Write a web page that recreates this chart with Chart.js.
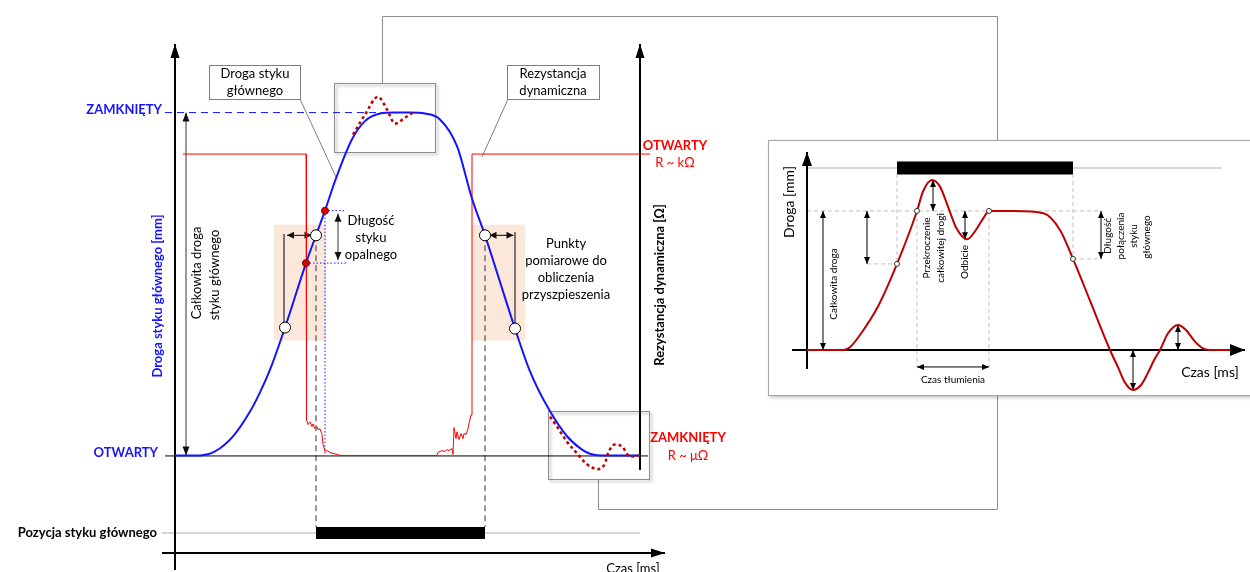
<!DOCTYPE html>
<html>
<head>
<meta charset="utf-8">
<script src="https://cdn.jsdelivr.net/npm/chart.js@4.4.1/dist/chart.umd.min.js"></script>
<style>
    html, body { margin: 0; padding: 0; background: #fff; }
    #wrap { position: relative; width: 1250px; height: 572px; overflow: hidden; }
    #main { position: absolute; left: 0; top: 0; }
    #inset { position: absolute; left: 766px; top: 139px; }
</style>
</head>
<body>
<div id="wrap">
    <canvas id="main" width="1250" height="572"></canvas>
    <canvas id="inset" width="484" height="264"></canvas>
</div>
<script>
// ---- main chart data: time (ms, arbitrary units), travel 0 = OTWARTY, 1 = ZAMKNIĘTY ----
const levelLabels = ['OTWARTY', 'ZAMKNIĘTY'];
const resistanceLabels = ['R ~ μΩ', 'R ~ kΩ'];

const pathTime  = [0, 5, 8, 11.6, 15, 17, 19, 22, 26.2, 28.2, 30, 32, 35.4, 38, 41, 44, 47, 50, 53, 56.4, 59.4, 62, 68, 71, 74.4, 78.4, 81.4, 83, 85, 93];
const pathValue = [0, 0, 0.0115, 0.0555, 0.128, 0.184, 0.25, 0.373, 0.561, 0.642, 0.714, 0.8, 0.922, 0.975, 0.997, 1, 1, 0.997, 0.98, 0.902, 0.749, 0.642, 0.37, 0.245, 0.144, 0.056, 0.017, 0.005, 0, 0];

const overTopTime  = [35.6, 38, 40.6, 42.4, 44, 46, 47.6];
const overTopValue = [0.936, 0.994, 1.046, 1.009, 0.968, 0.985, 1];

const overEndTime  = [75, 76.4, 78.4, 80.4, 82.4, 84.6, 86, 86.6, 88, 89.4, 91, 93];
const overEndValue = [0.113, 0.084, 0.04, 0.006, -0.026, -0.04, -0.023, 0.006, 0.032, 0.026, -0.003, 0];

const resTime  = [1.6, 26.2, 26.3, 26.6, 27, 27.4, 27.6, 28, 28.4, 28.6, 29, 29.4, 29.6, 30, 30.4, 31, 31.6, 32.4, 33,
                  52.4, 52.6, 53.4, 54, 54.4, 54.8, 55.4, 55.6, 55.8, 56.2, 56.4, 56.8, 57.2, 57.6, 57.8, 58.2, 58.6, 58.8, 59.2, 59.4, 95];
const resValue = [0.879, 0.879, 0.104, 0.09, 0.098, 0.084, 0.092, 0.078, 0.084, 0.075, 0.078, 0.061, 0.032, 0.012, 0.014, 0.009, 0.006, 0.003, 0,
                  0, 0.009, 0.014, 0.012, 0.017, 0.014, 0.02, 0.003, 0.081, 0.049, 0.069, 0.046, 0.064, 0.049, 0.064, 0.061, 0.078, 0.092, 0.118, 0.879, 0.879];

// acceleration measuring points (white) and arcing contact points (red)
const measureTime  = [22, 28.2, 62, 68];
const measureValue = [0.373, 0.642, 0.642, 0.37];
const arcTime  = [26.2, 30];
const arcValue = [0.561, 0.714];

// contact position bar (main contact closed)
const contactStart = 28.2;
const contactEnd = 62;

// ---- inset data ----
const insetTime  = [0, 7.3, 8.7, 10.6, 14.3, 18, 22, 23.2, 25, 26.6, 28.2, 29.9, 32, 34, 35.3, 36.4, 41.3, 47.3, 50.6, 53.2, 56.6, 60.6, 62.3, 63.6, 65.2, 66.8, 68.2, 69.5, 70.6, 72.2, 74.2, 75.8, 77.6, 79.2, 81.2, 84.6];
const insetValue = [0, 0, 0.024, 0.108, 0.32, 0.619, 1, 1.14, 1.223, 1.175, 1.031, 0.875, 0.796, 0.875, 0.95, 1, 1, 0.983, 0.863, 0.655, 0.355, 0, -0.132, -0.235, -0.288, -0.252, -0.163, -0.067, 0, 0.12, 0.18, 0.144, 0.06, 0.012, 0, 0];
const insetMarkTime  = [18, 22, 36.4, 53.2];
const insetMarkValue = [0.619, 1, 1, 0.655];
const insetBarStart = 18;
const insetBarEnd = 53.2;
const insetBarLevel = 1.309;

const FONT = 'Lato, "Open Sans", sans-serif';
const BLUE = '#1414ff';
const RED = '#ff0000';
const DARKRED = '#c00000';

const toPoints = (xs, ys) => xs.map((x, i) => ({ x: x, y: ys[i] }));

function arrow(ctx, x1, y1, x2, y2, both, head, half) {
    head = head || 6;
    half = half || 3;
    ctx.beginPath();
    ctx.moveTo(x1, y1);
    ctx.lineTo(x2, y2);
    ctx.stroke();
    const tip = function(ax, ay, bx, by) {
        const a = Math.atan2(by - ay, bx - ax);
        ctx.beginPath();
        ctx.moveTo(bx, by);
        ctx.lineTo(bx - head * Math.cos(a) + half * Math.sin(a), by - head * Math.sin(a) - half * Math.cos(a));
        ctx.lineTo(bx - head * Math.cos(a) - half * Math.sin(a), by - head * Math.sin(a) + half * Math.cos(a));
        ctx.closePath();
        ctx.fill();
    };
    tip(x1, y1, x2, y2);
    if (both) tip(x2, y2, x1, y1);
}

function line(ctx, pts) {
    ctx.beginPath();
    ctx.moveTo(pts[0][0], pts[0][1]);
    for (let i = 1; i < pts.length; i++) ctx.lineTo(pts[i][0], pts[i][1]);
    ctx.stroke();
}

function text(ctx, str, x, y, font, color, align) {
    ctx.font = font;
    ctx.fillStyle = color;
    ctx.textAlign = align || 'center';
    ctx.textBaseline = 'middle';
    ctx.fillText(str, x, y);
}

function rotText(ctx, str, x, y, font, color) {
    ctx.save();
    ctx.translate(x, y);
    ctx.rotate(-Math.PI / 2);
    text(ctx, str, 0, 0, font, color);
    ctx.restore();
}

// decorations of the main chart
const mainDecor = {
    id: 'mainDecor',
    beforeDatasetsDraw(chart) {
        const ctx = chart.ctx;
        const X = v => chart.scales.x.getPixelForValue(v);
        const Y = v => chart.scales.y.getPixelForValue(v);
        ctx.save();

        // connector from zoom boxes to the inset
        ctx.strokeStyle = '#8c8c8c';
        ctx.lineWidth = 1;
        line(ctx, [[382.5, 83], [382.5, 16.5], [997.5, 16.5], [997.5, 509.5], [598.5, 509.5], [598.5, 479]]);

        // shaded windows around measuring points
        ctx.fillStyle = '#fce8da';
        ctx.fillRect(X(19.8), Y(0.673), X(30.2) - X(19.8), Y(0.335) - Y(0.673));
        ctx.fillRect(X(59.4), Y(0.673), X(70) - X(59.4), Y(0.335) - Y(0.673));

        // zoom boxes
        ctx.save();
        ctx.shadowColor = 'rgba(0,0,0,0.35)';
        ctx.shadowBlur = 3;
        ctx.shadowOffsetX = 2;
        ctx.shadowOffsetY = 2;
        ctx.strokeStyle = '#8c8c8c';
        ctx.strokeRect(334.5, 83.5, 101, 69);
        ctx.strokeRect(548.5, 411.5, 101, 68);
        ctx.restore();

        // callout boxes
        ctx.strokeStyle = '#7f7f7f';
        line(ctx, [[300, 99], [336, 177]]);
        line(ctx, [[508, 99], [482, 157]]);
        ctx.fillStyle = '#fff';
        ctx.fillRect(209.5, 65.5, 91, 34);
        ctx.strokeRect(209.5, 65.5, 91, 34);
        ctx.fillRect(507.5, 65.5, 92, 34);
        ctx.strokeRect(507.5, 65.5, 92, 34);

        // contact position row
        ctx.strokeStyle = '#c8c8c8';
        ctx.lineWidth = 1.5;
        line(ctx, [[162, 533], [640, 533]]);
        ctx.fillStyle = '#000';
        ctx.fillRect(X(contactStart), 527, X(contactEnd) - X(contactStart), 12);

        // dashed projections of the contact points
        ctx.strokeStyle = '#555';
        ctx.lineWidth = 1.2;
        ctx.setLineDash([6, 4]);
        line(ctx, [[X(contactStart), Y(measureValue[1])], [X(contactStart), 527]]);
        line(ctx, [[X(contactEnd), Y(measureValue[2])], [X(contactEnd), 527]]);

        // blue dashed closed level
        ctx.strokeStyle = BLUE;
        ctx.lineWidth = 1;
        ctx.setLineDash([7, 5]);
        line(ctx, [[165, Y(1)], [X(44), Y(1)]]);

        // blue dotted arcing contact length
        ctx.setLineDash([1.5, 2]);
        line(ctx, [[X(arcTime[1]), Y(arcValue[1])], [X(arcTime[1]), Y(0)]]);
        line(ctx, [[X(arcTime[1]), Y(arcValue[1])], [X(34.2), Y(arcValue[1])]]);
        line(ctx, [[X(arcTime[0]), Y(arcValue[0])], [X(34.2), Y(arcValue[0])]]);
        ctx.setLineDash([]);

        // baseline (OTWARTY / ZAMKNIĘTY resistance)
        ctx.strokeStyle = '#000';
        ctx.lineWidth = 1;
        line(ctx, [[165, Y(0) + 0.5], [648, Y(0) + 0.5]]);

        // axes
        ctx.fillStyle = '#000';
        ctx.lineWidth = 2;
        arrow(ctx, X(0), 570, X(0), 44, false, 14, 4.5);
        arrow(ctx, X(93), 470, X(93), 44, false, 14, 4.5);
        arrow(ctx, 162, 553, 665, 553, false, 14, 4.5);

        // dimension arrows
        ctx.lineWidth = 1;
        ctx.strokeStyle = '#333';
        ctx.fillStyle = '#111';
        arrow(ctx, X(2.2), Y(0), X(2.2), Y(1), true, 9, 3.5);
        arrow(ctx, X(32.6), Y(arcValue[1]) + 3, X(32.6), Y(arcValue[0]) - 3, true, 8, 3.5);
        ctx.strokeStyle = '#000';
        line(ctx, [[X(22) - 1, 234], [X(22) - 1, Y(0.373)]]);
        arrow(ctx, X(22.4), Y(0.642), X(27.3), Y(0.642), true, 7, 3.5);
        line(ctx, [[X(68), 232], [X(68), Y(0.37)]]);
        arrow(ctx, X(62.9), Y(0.642), X(67.7), Y(0.642), true, 7, 3.5);

        ctx.restore();
    },
    afterDatasetsDraw(chart) {
        const ctx = chart.ctx;
        const Y = v => chart.scales.y.getPixelForValue(v);
        ctx.save();
        const reg = '13px ' + FONT;
        const bold = 'bold 13px ' + FONT;

        text(ctx, levelLabels[1], 162, Y(1) - 3, bold, BLUE, 'right');
        text(ctx, levelLabels[0], 158, Y(0) - 3, bold, BLUE, 'right');
        text(ctx, 'Pozycja styku głównego', 157, 533, bold, '#000', 'right');
        rotText(ctx, 'Droga styku głównego [mm]', 158, 296, bold, BLUE);
        rotText(ctx, 'Rezystancja dynamiczna [Ω]', 660, 285, bold, '#000');
        rotText(ctx, 'Całkowita droga', 197, 273, reg, '#000');
        rotText(ctx, 'styku głównego', 215, 275, reg, '#000');

        text(ctx, 'Droga styku', 255, 74, reg, '#000');
        text(ctx, 'głównego', 255, 91, reg, '#000');
        text(ctx, 'Rezystancja', 553, 74, reg, '#000');
        text(ctx, 'dynamiczna', 553, 91, reg, '#000');

        text(ctx, 'Długość', 371, 221, reg, '#000');
        text(ctx, 'styku', 371, 238, reg, '#000');
        text(ctx, 'opalnego', 371, 255, reg, '#000');

        text(ctx, 'Punkty', 566, 244, reg, '#000');
        text(ctx, 'pomiarowe do', 566, 261, reg, '#000');
        text(ctx, 'obliczenia', 566, 278, reg, '#000');
        text(ctx, 'przyszpieszenia', 566, 295, reg, '#000');

        text(ctx, levelLabels[0], 675, 146, bold, RED);
        text(ctx, resistanceLabels[1], 675, 163, reg, RED);
        text(ctx, levelLabels[1], 688, 438, bold, RED);
        text(ctx, resistanceLabels[0], 688, 456, reg, RED);

        ctx.font = reg;
        ctx.fillStyle = '#000';
        ctx.textAlign = 'center';
        ctx.textBaseline = 'top';
        ctx.fillText('Czas [ms]', 633, 562);
        ctx.restore();
    }
};

const mainChart = new Chart(document.getElementById('main'), {
    type: 'scatter',
    data: {
        datasets: [
            {
                label: 'Punkty pomiarowe',
                data: toPoints(measureTime, measureValue),
                pointRadius: 5.5,
                pointBackgroundColor: '#fff',
                pointBorderColor: '#000',
                pointBorderWidth: 1,
                order: 0
            },
            {
                label: 'Styk opalny',
                data: toPoints(arcTime, arcValue),
                pointRadius: 3.5,
                pointBackgroundColor: '#e00000',
                pointBorderColor: '#800000',
                pointBorderWidth: 1,
                order: 1
            },
            {
                label: 'Przeregulowanie',
                data: toPoints(overTopTime, overTopValue),
                showLine: true,
                borderColor: DARKRED,
                borderWidth: 2.5,
                borderDash: [3, 3],
                cubicInterpolationMode: 'monotone',
                pointRadius: 0,
                order: 2
            },
            {
                label: 'Oscylacje',
                data: toPoints(overEndTime, overEndValue),
                showLine: true,
                borderColor: DARKRED,
                borderWidth: 2.5,
                borderDash: [3, 3],
                cubicInterpolationMode: 'monotone',
                pointRadius: 0,
                order: 2
            },
            {
                label: 'Droga styku głównego',
                data: toPoints(pathTime, pathValue),
                showLine: true,
                borderColor: BLUE,
                borderWidth: 2,
                cubicInterpolationMode: 'monotone',
                pointRadius: 0,
                order: 3
            },
            {
                label: 'Rezystancja dynamiczna',
                data: toPoints(resTime, resValue),
                showLine: true,
                borderColor: RED,
                borderWidth: 1,
                tension: 0,
                pointRadius: 0,
                order: 4
            }
        ]
    },
    options: {
        responsive: false,
        animation: false,
        devicePixelRatio: 1,
        layout: { padding: { left: 175, right: 585, top: 44, bottom: 2 } },
        plugins: { legend: { display: false }, tooltip: { enabled: false } },
        scales: {
            x: { type: 'linear', min: 0, max: 98, display: false },
            y: { type: 'linear', min: -0.321, max: 1.2, display: false }
        }
    },
    plugins: [mainDecor]
});

// decorations of the inset chart (canvas sits at page 766,139)
const insetDecor = {
    id: 'insetDecor',
    beforeDatasetsDraw(chart) {
        const ctx = chart.ctx;
        const X = v => chart.scales.x.getPixelForValue(v);
        const Y = v => chart.scales.y.getPixelForValue(v);
        ctx.save();

        // frame
        ctx.save();
        ctx.shadowColor = 'rgba(0,0,0,0.3)';
        ctx.shadowBlur = 4;
        ctx.shadowOffsetX = 2;
        ctx.shadowOffsetY = 2;
        ctx.fillStyle = '#fff';
        ctx.fillRect(2, 1, 490, 255);
        ctx.restore();
        ctx.strokeStyle = '#a6a6a6';
        ctx.lineWidth = 1;
        ctx.strokeRect(2.5, 1.5, 490, 255);

        // contact position row
        ctx.strokeStyle = '#c8c8c8';
        ctx.lineWidth = 1.5;
        line(ctx, [[X(0), Y(insetBarLevel)], [X(83), Y(insetBarLevel)]]);
        ctx.fillStyle = '#000';
        ctx.fillRect(X(insetBarStart), Y(insetBarLevel) - 6.5, X(insetBarEnd) - X(insetBarStart), 13);

        // dashed helper lines
        ctx.strokeStyle = '#c0c0c0';
        ctx.lineWidth = 1;
        ctx.setLineDash([4, 3]);
        line(ctx, [[X(0), Y(1)], [X(58.6), Y(1)]]);
        line(ctx, [[X(12), Y(insetMarkValue[0])], [X(18), Y(insetMarkValue[0])]]);
        line(ctx, [[X(53.2), Y(insetMarkValue[3])], [X(58.6), Y(insetMarkValue[3])]]);
        line(ctx, [[X(insetBarStart), Y(insetBarLevel) + 6], [X(insetBarStart), Y(insetMarkValue[0])]]);
        line(ctx, [[X(insetBarEnd), Y(insetBarLevel) + 6], [X(insetBarEnd), Y(insetMarkValue[3])]]);
        line(ctx, [[X(22), Y(1)], [X(22), Y(-0.122)]]);
        line(ctx, [[X(36.4), Y(1)], [X(36.4), Y(-0.122)]]);
        ctx.setLineDash([]);

        // axes
        ctx.strokeStyle = '#000';
        ctx.fillStyle = '#000';
        ctx.lineWidth = 2;
        arrow(ctx, X(0), Y(-0.137), X(0), Y(1.424), false, 14, 5);
        arrow(ctx, X(-3), Y(0), X(87.6), Y(0), false, 15, 6);

        // dimension arrows
        ctx.lineWidth = 1;
        ctx.fillStyle = '#000';
        arrow(ctx, X(3.2), Y(0), X(3.2), Y(1), true, 7, 3);
        arrow(ctx, X(12), Y(insetMarkValue[0]), X(12), Y(1), true, 7, 3);
        arrow(ctx, X(25.2), Y(1), X(25.2), Y(1.223), true, 7, 3);
        arrow(ctx, X(31.6), Y(0.796), X(31.6), Y(1), true, 7, 3);
        arrow(ctx, X(58.8), Y(insetMarkValue[3]), X(58.8), Y(1), true, 7, 3);
        arrow(ctx, X(65.2), Y(-0.288), X(65.2), Y(0), true, 7, 3);
        arrow(ctx, X(74.2), Y(0), X(74.2), Y(0.18), true, 7, 3);
        arrow(ctx, X(22), Y(-0.122), X(36.4), Y(-0.122), true, 7, 3);
        ctx.restore();
    },
    afterDatasetsDraw(chart) {
        const ctx = chart.ctx;
        const ox = 766, oy = 139;
        const small = '10px ' + FONT;
        const big = '14px ' + FONT;
        ctx.save();
        rotText(ctx, 'Droga [mm]', 789 - ox, 202 - oy, big, '#000');
        rotText(ctx, 'Całkowita droga', 834 - ox, 284 - oy, small, '#000');
        rotText(ctx, 'Przekroczenie', 927 - ox, 248 - oy, small, '#000');
        rotText(ctx, 'całkowitej drogi', 941 - ox, 248 - oy, small, '#000');
        rotText(ctx, 'Odbicie', 965 - ox, 262 - oy, small, '#000');
        rotText(ctx, 'Długość', 1108 - ox, 236 - oy, small, '#000');
        rotText(ctx, 'połączenia', 1121 - ox, 236 - oy, small, '#000');
        rotText(ctx, 'styku', 1134 - ox, 236 - oy, small, '#000');
        rotText(ctx, 'głównego', 1147 - ox, 237 - oy, small, '#000');
        text(ctx, 'Czas [ms]', 1210 - ox, 372 - oy, big, '#000');
        text(ctx, 'Czas tłumienia', 953 - ox, 380 - oy, small, '#000');
        ctx.restore();
    }
};

const insetChart = new Chart(document.getElementById('inset'), {
    type: 'scatter',
    data: {
        datasets: [
            {
                label: 'Punkty',
                data: toPoints(insetMarkTime, insetMarkValue),
                pointRadius: 2.5,
                pointBackgroundColor: '#fff',
                pointBorderColor: '#333',
                pointBorderWidth: 1,
                clip: false,
                order: 0
            },
            {
                label: 'Droga',
                data: toPoints(insetTime, insetValue),
                showLine: true,
                borderColor: DARKRED,
                borderWidth: 2,
                cubicInterpolationMode: 'monotone',
                pointRadius: 0,
                clip: false,
                order: 1
            }
        ]
    },
    options: {
        responsive: false,
        animation: false,
        devicePixelRatio: 1,
        layout: { padding: { left: 26, right: 5, top: 13, bottom: 33 } },
        plugins: { legend: { display: false }, tooltip: { enabled: false } },
        scales: {
            x: { type: 'linear', min: -3, max: 87.6, display: false },
            y: { type: 'linear', min: -0.144, max: 1.424, display: false }
        }
    },
    plugins: [insetDecor]
});
</script>
</body>
</html>
